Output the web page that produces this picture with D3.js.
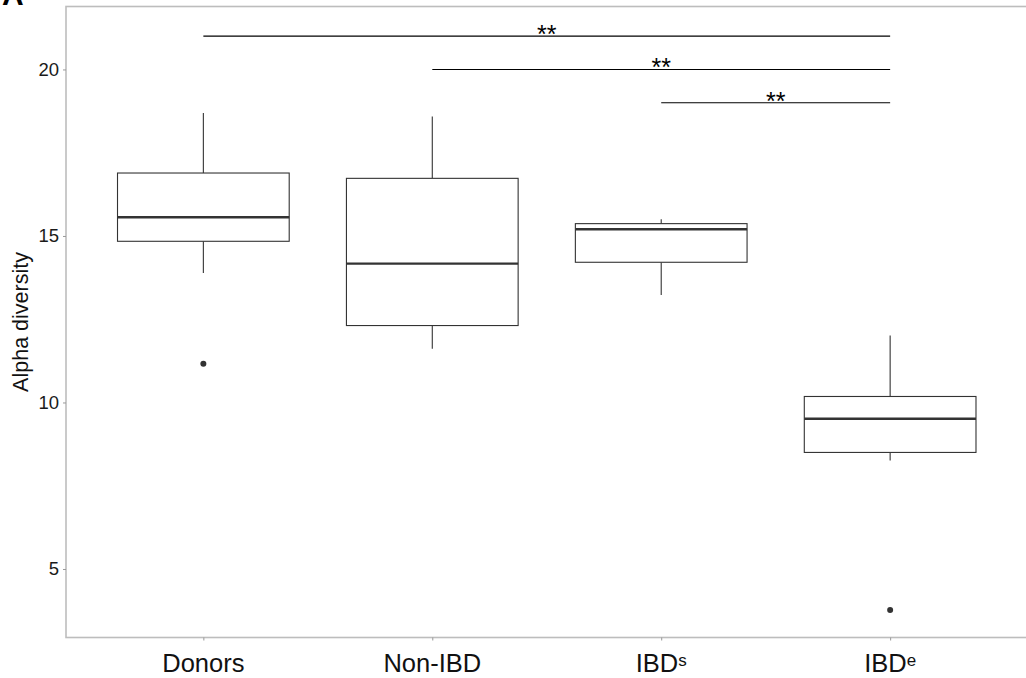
<!DOCTYPE html>
<html>
<head>
<meta charset="utf-8">
<script src="https://cdn.jsdelivr.net/npm/d3@7"></script>
<style>
  body { margin: 0; background: #fff; }
  svg { font-family: "Liberation Sans", Arial, Helvetica, sans-serif; }
</style>
</head>
<body>
<div id="chart"></div>
<script>
// groups and their box statistics
const groups = ["Donors", "Non-IBD", "IBDs", "IBDe"];
const whiskerLow = [13.89, 11.61, 13.23, 8.26];
const q1 = [14.84, 12.31, 14.21, 8.50];
const median = [15.56, 14.17, 15.20, 9.51];
const q3 = [16.89, 16.73, 15.37, 10.18];
const whiskerHigh = [18.69, 18.59, 15.50, 12.01];
const outliers = [["Donors", 11.16], ["IBDe", 3.77]];

// significance brackets: from group, to group, y value, label
const sigFrom = ["Donors", "Non-IBD", "IBDs"];
const sigTo = ["IBDe", "IBDe", "IBDe"];
const sigY = [21, 20, 19];
const sigLabel = ["**", "**", "**"];

const yTicks = [5, 10, 15, 20];

const width = 1026, height = 678;
const panel = {left: 66, right: 1027.5, top: 6.5, bottom: 637.5};

let svg = d3.select("#chart")
    .append("svg")
    .attr("width", width)
    .attr("height", height);

// x scale: discrete groups with ggplot-like 0.6 expansion
let x = d3.scalePoint()
    .domain(groups)
    .range([panel.left, panel.right])
    .padding(0.6);
const boxW = x.step() * 0.75;

// y scale
let y = d3.scaleLinear()
    .domain([2.943, 21.89])
    .range([panel.bottom, panel.top]);

// panel border
svg.append("rect")
    .attr("x", panel.left)
    .attr("y", panel.top)
    .attr("width", panel.right - panel.left)
    .attr("height", panel.bottom - panel.top)
    .attr("fill", "none")
    .attr("stroke", "#bdbdbd")
    .attr("stroke-width", 1.6);

// y axis
let yAxis = svg.append("g")
    .attr("transform", `translate(${panel.left},0)`)
    .call(d3.axisLeft(y).tickValues(yTicks).tickSize(3).tickPadding(4));
yAxis.select(".domain").remove();
yAxis.selectAll(".tick line").attr("stroke", "#999");
yAxis.selectAll(".tick text")
    .attr("fill", "#1a1a1a")
    .style("font-size", "18.5px")
    .style("font-family", "'Liberation Sans', Arial, sans-serif");

// x axis
let xAxis = svg.append("g")
    .attr("transform", `translate(0,${panel.bottom})`)
    .call(d3.axisBottom(x).tickSize(3).tickFormat(""));
xAxis.select(".domain").remove();
xAxis.selectAll(".tick line").attr("stroke", "#999");

// x labels with superscripts for IBD groups
groups.forEach(function(g) {
    let t = svg.append("text")
        .attr("x", x(g))
        .attr("y", 671.5)
        .attr("text-anchor", "middle")
        .attr("fill", "#111")
        .style("font-size", "25.5px");
    if (g.startsWith("IBD") && g.length === 4) {
        t.append("tspan").text("IBD");
        t.append("tspan")
            .attr("dy", -6)
            .style("font-size", "17px")
            .text(g.slice(3));
    } else {
        t.text(g);
    }
});

// y axis title
svg.append("text")
    .attr("transform", `translate(28,${(panel.top + panel.bottom) / 2}) rotate(-90)`)
    .attr("text-anchor", "middle")
    .attr("fill", "#111")
    .style("font-size", "21.5px")
    .text("Alpha diversity");

// clipped panel label "A" (only its feet show, as in the source)
svg.append("text")
    .attr("x", 2)
    .attr("y", 5)
    .attr("fill", "#000")
    .style("font-size", "30px")
    .style("font-weight", "bold")
    .text("A");

// boxes
let boxData = groups.map(function(g, i) {
    return {g: g, lo: whiskerLow[i], q1: q1[i], med: median[i], q3: q3[i], hi: whiskerHigh[i]};
});

let boxes = svg.append("g").selectAll("g").data(boxData).enter().append("g");

// whiskers
boxes.append("line")
    .attr("x1", d => x(d.g)).attr("x2", d => x(d.g))
    .attr("y1", d => y(d.hi)).attr("y2", d => y(d.q3))
    .attr("stroke", "#333").attr("stroke-width", 1.1);
boxes.append("line")
    .attr("x1", d => x(d.g)).attr("x2", d => x(d.g))
    .attr("y1", d => y(d.q1)).attr("y2", d => y(d.lo))
    .attr("stroke", "#333").attr("stroke-width", 1.1);

// box body
boxes.append("rect")
    .attr("x", d => x(d.g) - boxW / 2)
    .attr("y", d => y(d.q3))
    .attr("width", boxW)
    .attr("height", d => y(d.q1) - y(d.q3))
    .attr("fill", "#fff")
    .attr("stroke", "#333")
    .attr("stroke-width", 1.1);

// median
boxes.append("line")
    .attr("x1", d => x(d.g) - boxW / 2).attr("x2", d => x(d.g) + boxW / 2)
    .attr("y1", d => y(d.med)).attr("y2", d => y(d.med))
    .attr("stroke", "#333").attr("stroke-width", 2.4);

// outliers
svg.append("g").selectAll("circle").data(outliers).enter()
    .append("circle")
    .attr("cx", d => x(d[0]))
    .attr("cy", d => y(d[1]))
    .attr("r", 3)
    .attr("fill", "#333");

// significance brackets
let sig = svg.append("g").selectAll("g").data(sigY).enter().append("g");
sig.append("line")
    .attr("x1", (d, i) => x(sigFrom[i]))
    .attr("x2", (d, i) => x(sigTo[i]))
    .attr("y1", d => y(d)).attr("y2", d => y(d))
    .attr("stroke", "#000").attr("stroke-width", 1.1);
sig.append("text")
    .attr("x", (d, i) => (x(sigFrom[i]) + x(sigTo[i])) / 2)
    .attr("y", d => y(d) + 7)
    .attr("text-anchor", "middle")
    .attr("fill", "#000")
    .style("font-size", "25px")
    .text((d, i) => sigLabel[i]);
</script>
</body>
</html>
